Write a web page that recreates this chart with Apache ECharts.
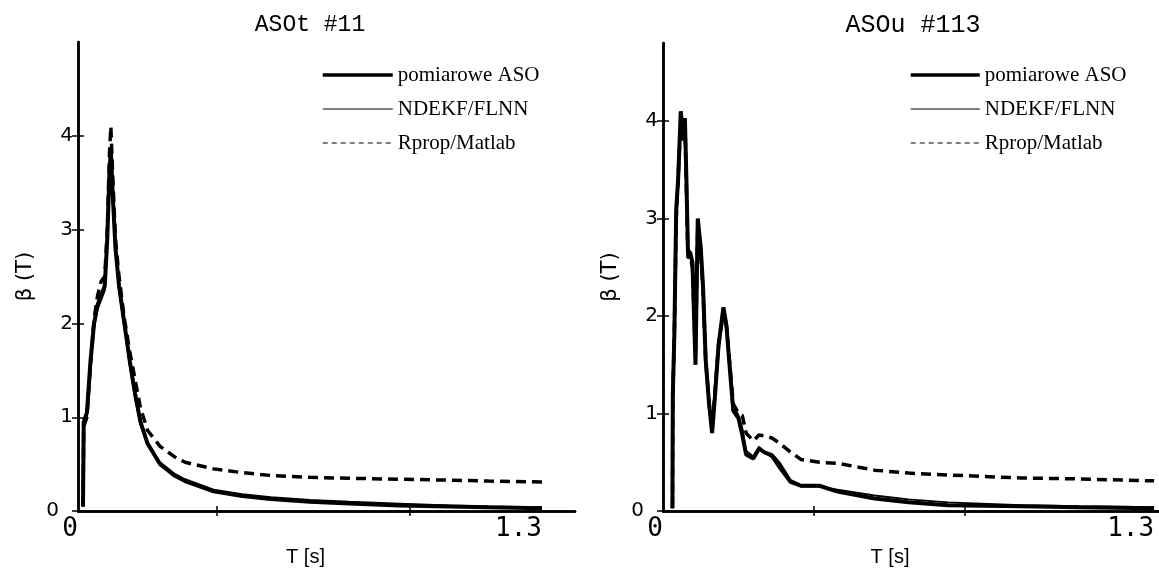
<!DOCTYPE html>
<html>
<head>
<meta charset="utf-8">
<script src="https://cdn.jsdelivr.net/npm/echarts@6/dist/echarts.min.js"></script>
<style>
  html, body { margin: 0; padding: 0; background: #fff; }
  #main { width: 1159px; height: 572px; }
</style>
</head>
<body>
<div id="main"></div>
<script>
// ASOt #11 (lewy wykres)
var leftT = [0.014, 0.016, 0.025, 0.035, 0.045, 0.055, 0.065, 0.075, 0.082, 0.088, 0.092, 0.097, 0.105, 0.115,
  0.13, 0.145, 0.16, 0.175, 0.195, 0.23, 0.27, 0.3, 0.38, 0.46, 0.54, 0.65, 0.76, 0.9, 1.04, 1.15, 1.3];
var leftMeasured = [0.05, 0.95, 1.05, 1.6, 2.0, 2.2, 2.3, 2.4, 2.9, 3.6, 3.85, 3.4, 2.8, 2.4,
  2.0, 1.6, 1.25, 0.95, 0.72, 0.5, 0.38, 0.32, 0.21, 0.16, 0.13, 0.1, 0.08, 0.06, 0.05, 0.04, 0.03];
var leftNdekf = [0.05, 0.95, 1.0, 1.5, 1.95, 2.15, 2.25, 2.35, 2.8, 3.5, 3.75, 3.3, 2.75, 2.35,
  1.95, 1.55, 1.2, 0.92, 0.7, 0.52, 0.4, 0.34, 0.23, 0.18, 0.15, 0.12, 0.1, 0.08, 0.06, 0.05, 0.04];
var leftRprop = [0.05, 0.9, 1.0, 1.55, 2.05, 2.3, 2.45, 2.5, 3.0, 3.8, 4.1, 3.6, 2.9, 2.5,
  2.05, 1.7, 1.4, 1.1, 0.86, 0.69, 0.58, 0.52, 0.45, 0.41, 0.38, 0.36, 0.35, 0.34, 0.33, 0.32, 0.31];

// ASOu #113 (prawy wykres)
var rightT = [0.025, 0.026, 0.03, 0.035, 0.04, 0.047, 0.052, 0.058, 0.062, 0.066, 0.072, 0.078, 0.086, 0.092,
  0.1, 0.106, 0.113, 0.122, 0.13, 0.138, 0.147, 0.16, 0.168, 0.176, 0.186, 0.2, 0.21, 0.22, 0.239, 0.254,
  0.27, 0.288, 0.307, 0.336, 0.365, 0.414, 0.462, 0.56, 0.65, 0.754, 0.948, 1.1, 1.3];
var rightMeasured = [0.03, 1.2, 1.8, 3.1, 3.4, 4.1, 3.9, 4.03, 3.4, 2.67, 2.65, 2.55, 1.5, 3.0,
  2.7, 2.3, 1.55, 1.1, 0.8, 1.2, 1.7, 2.09, 1.9, 1.5, 1.03, 0.95, 0.78, 0.58, 0.54, 0.64,
  0.6, 0.575, 0.49, 0.31, 0.26, 0.26, 0.2, 0.13, 0.09, 0.06, 0.05, 0.04, 0.03];
var rightNdekf = [0.03, 1.1, 1.7, 2.9, 3.3, 3.9, 3.8, 3.9, 3.2, 2.6, 2.6, 2.5, 1.6, 2.9,
  2.6, 2.2, 1.5, 1.05, 0.82, 1.25, 1.75, 2.05, 1.95, 1.6, 1.1, 0.98, 0.85, 0.62, 0.56, 0.66,
  0.6, 0.55, 0.44, 0.29, 0.25, 0.25, 0.22, 0.16, 0.12, 0.09, 0.06, 0.05, 0.04];
var rightRprop = [0.03, 1.2, 1.8, 3.0, 3.4, 4.0, 3.85, 4.0, 3.3, 2.6, 2.6, 2.5, 1.6, 2.95,
  2.65, 2.25, 1.55, 1.1, 0.85, 1.25, 1.7, 2.05, 1.9, 1.55, 1.1, 1.0, 0.98, 0.8, 0.72, 0.78,
  0.77, 0.75, 0.7, 0.61, 0.53, 0.5, 0.49, 0.42, 0.39, 0.37, 0.34, 0.33, 0.31];

var seriesNames = ['pomiarowe ASO', 'NDEKF/FLNN', 'Rprop/Matlab'];
var titles = ['ASOt #11', 'ASOu #113'];
var yTicks = [0, 1, 2, 3, 4];
var leftXTicks = [0.389, 0.93];
var rightXTicks = [0.4, 0.8];
var xLabels = [0, 1.3];

function pairs(ts, ys) {
  return ts.map(function (t, i) { return [t, ys[i]]; });
}

var myChart = echarts.init(document.getElementById('main'), null, { renderer: 'canvas' });

var axisLine = { show: true, lineStyle: { color: '#000', width: 2.5 } };
var mono = 'DejaVu Sans Mono';
var sans = 'DejaVu Sans';

function bottomX(grid, max, ticks) {
  return {
    type: 'value', gridIndex: grid, position: 'bottom', min: 0, max: max,
    axisLine: axisLine, splitLine: { show: false },
    axisTick: { inside: true, length: 5, customValues: ticks, lineStyle: { color: '#000', width: 1.5 } },
    axisLabel: {
      customValues: xLabels, align: 'right', margin: 5,
      fontFamily: mono, fontSize: 26, color: '#000',
      formatter: function (v) { return v === 0 ? '0' : '1.3'; }
    },
    name: 'T [s]', nameLocation: 'middle', nameGap: 33,
    nameTextStyle: { fontFamily: 'Liberation Sans', fontSize: 20, color: '#000', padding: [0, 42, 0, 0] }
  };
}
function topX(grid, max, ticks) {
  return {
    type: 'value', gridIndex: grid, position: 'top', min: 0, max: max,
    axisLine: axisLine, splitLine: { show: false }, axisLabel: { show: false },
    axisTick: { inside: true, length: 5, customValues: ticks, lineStyle: { color: '#000', width: 1.5 } }
  };
}
function leftY(grid, max) {
  return {
    type: 'value', gridIndex: grid, position: 'left', min: 0, max: max, interval: 1,
    axisLine: axisLine, splitLine: { show: false },
    axisTick: { inside: true, length: 6, customValues: yTicks, lineStyle: { color: '#000', width: 1.5 } },
    axisLabel: {
      customValues: yTicks, margin: 5, fontFamily: sans, fontSize: 20, color: '#000',
      formatter: function (v) { return v === 0 ? '{z|0}' : String(v); },
      rich: { z: { fontFamily: sans, fontSize: 20, color: '#000', padding: [0, 14, 0, 0] } }
    },
    name: 'β (T)', nameLocation: 'middle', nameGap: 42, nameRotate: 90,
    nameTextStyle: { fontFamily: sans, fontSize: 21, color: '#000' }
  };
}
function rightY(grid, max) {
  return {
    type: 'value', gridIndex: grid, position: 'right', min: 0, max: max, interval: 1,
    axisLine: axisLine, splitLine: { show: false }, axisLabel: { show: false },
    axisTick: { inside: true, length: 6, customValues: yTicks, lineStyle: { color: '#000', width: 1.5 } }
  };
}

function lineSeries(name, data, xi, yi) {
  var style = { color: '#000', width: 4 };
  if (name === seriesNames[1]) style = { color: '#000', width: 1.8 };
  if (name === seriesNames[2]) style = { color: '#000', width: 3.5, type: [10, 6] };
  return {
    name: name, type: 'line', xAxisIndex: xi, yAxisIndex: yi, data: data,
    symbol: 'none', lineStyle: style, itemStyle: { color: '#000' }, z: name === seriesNames[1] ? 4 : 3
  };
}

function legendData() {
  var hidden = { opacity: 0, color: 'transparent', borderWidth: 0 };
  return [
    { name: seriesNames[0], lineStyle: { width: 3.5, color: '#000' }, itemStyle: hidden },
    { name: seriesNames[1], lineStyle: { width: 1.2, color: '#000' }, itemStyle: hidden },
    { name: seriesNames[2], lineStyle: { width: 1.2, color: '#000', type: [5, 4] }, itemStyle: hidden }
  ];
}
var legendText = { fontFamily: 'Liberation Serif', fontSize: 21, color: '#000', lineHeight: 22 };

var option = {
  animation: false,
  backgroundColor: '#fff',
  title: [
    { text: titles[0], left: 305, top: 8, textAlign: 'center',
      textStyle: { fontFamily: 'Liberation Mono', fontSize: 23, fontWeight: 'normal', color: '#000' } },
    { text: titles[1], left: 908, top: 8, textAlign: 'center',
      textStyle: { fontFamily: 'Liberation Mono', fontSize: 25, fontWeight: 'normal', color: '#000' } }
  ],
  legend: [
    { orient: 'vertical', left: 316, top: 59, itemWidth: 70, itemHeight: 14, itemGap: 12,
      data: legendData(), textStyle: legendText, selectedMode: false },
    { orient: 'vertical', left: 904, top: 59, itemWidth: 69, itemHeight: 14, itemGap: 12,
      data: legendData(), textStyle: legendText, selectedMode: false }
  ],
  grid: [
    { left: 78, top: 42, width: 497, height: 471 },
    { left: 663, top: 43, width: 500, height: 470 }
  ],
  xAxis: [
    bottomX(0, 1.3925, leftXTicks), topX(0, 1.3925, leftXTicks),
    bottomX(1, 1.313, rightXTicks), topX(1, 1.313, rightXTicks)
  ],
  yAxis: [
    leftY(0, 5), rightY(0, 5),
    leftY(1, 4.8), rightY(1, 4.8)
  ],
  series: [
    lineSeries(seriesNames[2], pairs(leftT, leftRprop), 0, 0),
    lineSeries(seriesNames[0], pairs(leftT, leftMeasured), 0, 0),
    lineSeries(seriesNames[1], pairs(leftT, leftNdekf), 0, 0),
    lineSeries(seriesNames[2], pairs(rightT, rightRprop), 2, 2),
    lineSeries(seriesNames[0], pairs(rightT, rightMeasured), 2, 2),
    lineSeries(seriesNames[1], pairs(rightT, rightNdekf), 2, 2)
  ]
};

myChart.setOption(option);
</script>
</body>
</html>
